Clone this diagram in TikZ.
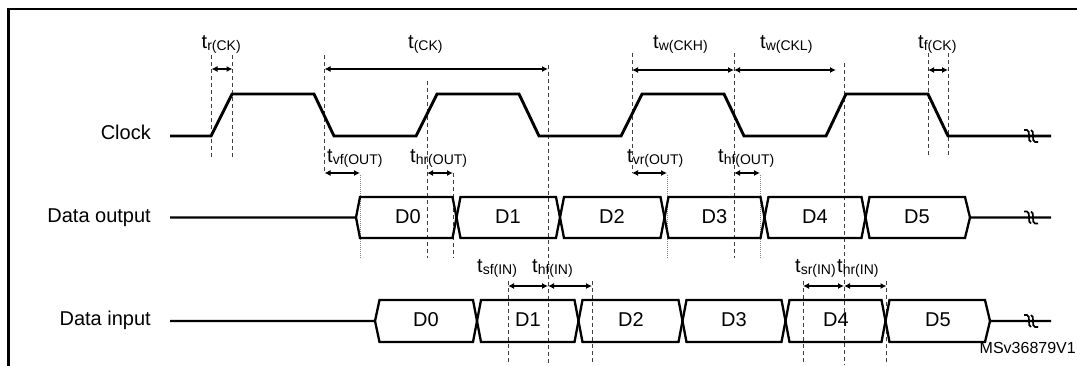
\documentclass[tikz,border=0pt]{standalone}
\usepackage{fontspec}
\setmainfont{Liberation Sans}
\usetikzlibrary{arrows.meta}
\newcommand\tmainf{\fontsize{20}{24}\selectfont}
\newcommand\tsubf{\fontsize{14}{16}\selectfont}
\newcommand\tlab[1]{{\tmainf t}\raisebox{-2pt}{\tsubf #1}}
\begin{document}
\begin{tikzpicture}[x=1pt,y=-1pt,
  wave/.style={line width=2.9pt,line join=miter},
  bus/.style={line width=2.3pt,line join=miter},
  guide/.style={dash pattern=on 4pt off 3pt,line width=0.9pt,black!75},
  fine/.style={dash pattern=on 1pt off 1pt,line width=0.9pt,black!50},
  dim/.style={{Latex[length=6pt,width=6pt]}-{Latex[length=6pt,width=6pt]},line width=1.2pt},
  tl/.style={anchor=base west,inner sep=0pt},
  sig/.style={anchor=base east,inner sep=0pt,font=\tmainf},
  dat/.style={inner sep=0pt,font=\tmainf},
  brk/.pic={\draw[line width=1.7pt] (-7,-6) -- (-4,-6) .. controls (0,-6) and (-4,6) .. (0,6);
            \draw[line width=1.7pt] (0,-6) .. controls (4,-6) and (0,6) .. (4,6) -- (7,6);}]
\useasboundingbox (0,0) rectangle (1077,365);
% frame
\draw[line width=2.6pt] (8.6,366) -- (8.6,9) -- (1078,9);
% guides (dashed)
\draw[guide] (211.5,55) -- (211.5,157);
\draw[guide] (232.5,55) -- (232.5,157);
\draw[guide] (324.5,55) -- (324.5,173);
\draw[guide] (427,81) -- (427,258);
\draw[guide] (453,173) -- (453,258);
\draw[guide] (548,65) -- (548,365);
\draw[guide] (632,53) -- (632,173);
\draw[guide] (734,53) -- (734,258);
\draw[guide] (844,63) -- (844,365);
\draw[guide] (928,53) -- (928,157);
\draw[guide] (948,53) -- (948,157);
\draw[guide] (508,281) -- (508,365);
\draw[guide] (592,281) -- (592,365);
\draw[guide] (803,281) -- (803,365);
\draw[guide] (886.5,281) -- (886.5,365);
\draw[fine] (360,175) -- (360,258);
\draw[fine] (667,175) -- (667,258);
\draw[fine] (760,175) -- (760,258);
% clock
\draw[wave] (170,136) -- (211,136) -- (232,94) -- (314,94) -- (334,136) -- (416,136) -- (437,94) -- (519,94) -- (539,136)
  -- (621,136) -- (642,94) -- (724,94) -- (744,136) -- (826,136) -- (846,94) -- (928,94) -- (948,136) -- (1051,136);
% data output
\draw[bus] (170,217.5) -- (356,217.5) -- (360,197) -- (452.5,197) -- (460.5,238) -- (556,238) -- (564,197) -- (660.5,197)
  -- (668.5,238) -- (760.5,238) -- (768.5,197) -- (861.5,197) -- (869.5,238) -- (965,238) -- (970,217.5) -- (1051,217.5);
\draw[bus] (356,217.5) -- (360,238) -- (452.5,238) -- (460.5,197) -- (556,197) -- (564,238) -- (660.5,238) -- (668.5,197)
  -- (760.5,197) -- (768.5,238) -- (861.5,238) -- (869.5,197) -- (965,197) -- (970,217.5);
% data input
\draw[bus] (170,321) -- (375,321) -- (379.5,300) -- (473,300) -- (481,342) -- (574.5,342) -- (582.5,300) -- (678.5,300)
  -- (686.5,342) -- (781.5,342) -- (789.5,300) -- (881.5,300) -- (889.5,342) -- (985,342) -- (990,321) -- (1051,321);
\draw[bus] (375,321) -- (379.5,342) -- (473,342) -- (481,300) -- (574.5,300) -- (582.5,342) -- (678.5,342) -- (686.5,300)
  -- (781.5,300) -- (789.5,342) -- (881.5,342) -- (889.5,300) -- (985,300) -- (990,321);
% breaks
\pic at (1031,136) {brk};
\pic at (1031,217.5) {brk};
\pic at (1031,321) {brk};
% dimension arrows
\draw[dim] (211.5,69) -- (232.5,69);
\draw[dim] (324.5,69) -- (548,69);
\draw[dim] (632,70) -- (734,70);
\draw[dim] (734,70) -- (836,70);
\draw[dim] (928,70) -- (948,70);
\draw[dim] (324.5,173) -- (360,173);
\draw[dim] (427,173) -- (453,173);
\draw[dim] (632,173) -- (667,173);
\draw[dim] (734,173) -- (760,173);
\draw[dim] (508,286) -- (548,286);
\draw[dim] (548,286) -- (592,286);
\draw[dim] (803,286) -- (844,286);
\draw[dim] (844,286) -- (886.5,286);
% timing labels
\node[tl] (trck) at (201.5,48.5) {\tlab{r(CK)}};
\node[tl] (tck) at (408,48.5) {\tlab{(CK)}};
\node[tl] (twckh) at (653,48.5) {\tlab{w(CKH)}};
\node[tl] (twckl) at (760,48.5) {\tlab{w(CKL)}};
\node[tl] (tfck) at (918,48.5) {\tlab{f(CK)}};
\node[tl] (tvfout) at (327,162.5) {\tlab{vf(OUT)}};
\node[tl] (throut) at (410,162.5) {\tlab{hr(OUT)}};
\node[tl] (tvrout) at (627,162.5) {\tlab{vr(OUT)}};
\node[tl] (thfout) at (718,162.5) {\tlab{hf(OUT)}};
\node[tl] (tsfin) at (477,272) {\tlab{sf(IN)}};
\node[tl] (thfin) at (532,272) {\tlab{hf(IN)}};
\node[tl] (tsrin) at (795,272) {\tlab{sr(IN)}};
\node[tl] (thrin) at (837,272) {\tlab{hr(IN)}};
% signal names
\node[sig] (clk) at (151,139.5) {Clock};
\node[sig] (dout) at (151,222) {Data output};
\node[sig] (din) at (151,325) {Data input};
% data labels
\node[dat] (o0) at (408,216.5) {D0};
\node[dat] (o1) at (508,216.5) {D1};
\node[dat] (o2) at (612,216.5) {D2};
\node[dat] (o3) at (714.5,216.5) {D3};
\node[dat] (o4) at (815,216.5) {D4};
\node[dat] (o5) at (917,216.5) {D5};
\node[dat] (i0) at (426,320) {D0};
\node[dat] (i1) at (528,320) {D1};
\node[dat] (i2) at (631,320) {D2};
\node[dat] (i3) at (734,320) {D3};
\node[dat] (i4) at (836,320) {D4};
\node[dat] (i5) at (938,320) {D5};
\node[anchor=base east,inner sep=0pt,font=\fontsize{16}{18}\selectfont] (ref) at (1076,353) {MSv36879V1};
\end{tikzpicture}
\end{document}
